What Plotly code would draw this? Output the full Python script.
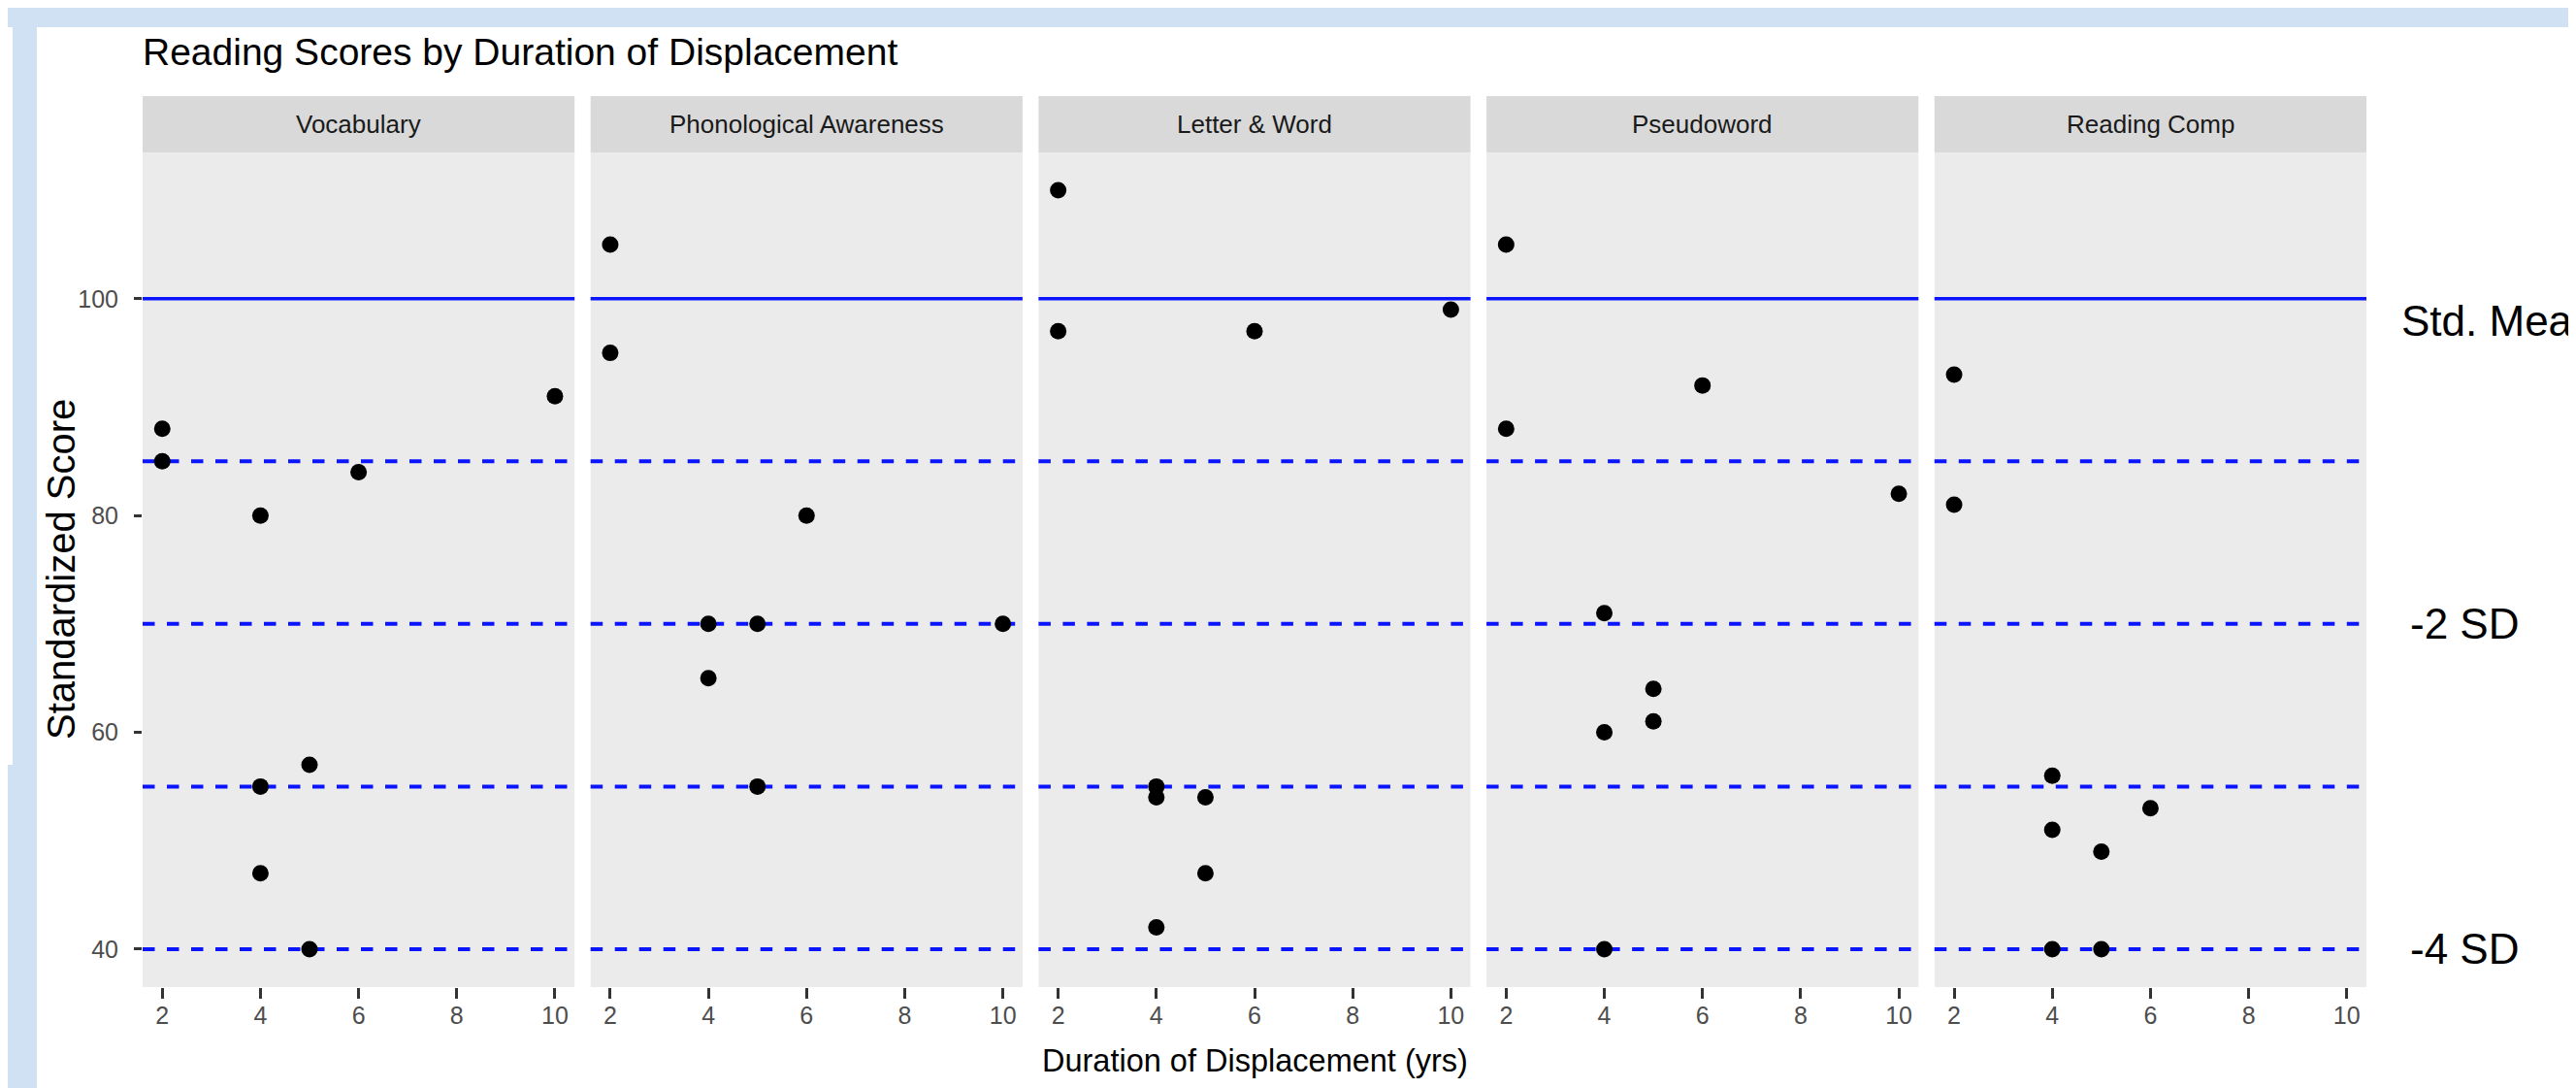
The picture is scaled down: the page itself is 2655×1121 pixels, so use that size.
import plotly.graph_objects as go

# ---------------- data ----------------
facets = ["Vocabulary", "Phonological Awareness", "Letter & Word", "Pseudoword", "Reading Comp"]

vocab_years = [2, 2, 4, 6, 10, 4, 5, 4, 5]
vocab_score = [88, 85, 80, 84, 91, 55, 57, 47, 40]

phon_years = [2, 2, 6, 4, 5, 10, 4, 5]
phon_score = [105, 95, 80, 70, 70, 70, 65, 55]

letter_years = [2, 2, 6, 10, 4, 4, 5, 5, 4]
letter_score = [110, 97, 97, 99, 55, 54, 54, 47, 42]

pseudo_years = [2, 2, 6, 10, 4, 5, 5, 4, 4]
pseudo_score = [105, 88, 92, 82, 71, 64, 61, 60, 40]

comp_years = [2, 2, 4, 6, 4, 5, 4, 5]
comp_score = [93, 81, 56, 53, 51, 49, 40, 40]

mean_line = 100
sd_lines = [85, 70, 55, 40]
sd_labels = ["Std. Mean", "-2 SD", "-4 SD"]
sd_label_y = [98, 70, 40]

x_ticks = [2, 4, 6, 8, 10]
y_ticks = [40, 60, 80, 100]

series_x = [vocab_years, phon_years, letter_years, pseudo_years, comp_years]
series_y = [vocab_score, phon_score, letter_score, pseudo_score, comp_score]

# ---------------- layout helpers ----------------
W, H = 2655, 1121
def fx(p):
    return p / W
def fy(p):
    return 1 - p / H

FONT = "Liberation Sans, Arial, Helvetica, sans-serif"

panel_left, panel_right, gap = 139, 2431, 16.5
n = len(facets)
pw = (panel_right - panel_left - gap * (n - 1)) / n
panel_top, panel_bottom = 149, 1009
strip_top = 91

fig = go.Figure()
layout = dict(
    width=W, height=H, autosize=False,
    margin=dict(l=0, r=0, t=0, b=0),
    paper_bgcolor="white", plot_bgcolor="#EBEBEB",
    showlegend=False,
)

shapes = []
annotations = []

# frame decoration
BLUEFRAME = "#CFE1F2"
shapes.append(dict(type="rect", xref="paper", yref="paper", x0=0, x1=1, y0=fy(20), y1=1,
                   fillcolor=BLUEFRAME, line=dict(width=0), layer="below"))
shapes.append(dict(type="rect", xref="paper", yref="paper", x0=0, x1=fx(30), y0=0, y1=1,
                   fillcolor=BLUEFRAME, line=dict(width=0), layer="below"))
shapes.append(dict(type="rect", xref="paper", yref="paper", x0=0, x1=fx(5), y0=fy(780), y1=fy(20),
                   fillcolor="white", line=dict(width=0), layer="below"))

for i in range(n):
    k = "" if i == 0 else str(i + 1)
    x0 = panel_left + i * (pw + gap)
    x1 = x0 + pw
    layout["xaxis" + k] = dict(
        domain=[fx(x0), fx(x1)], anchor="y" + k, range=[1.6, 10.4],
        tickvals=x_ticks, ticks="outside", ticklen=11, tickwidth=2.5, tickcolor="#333333",
        showgrid=False, zeroline=False, showline=False,
        tickfont=dict(family=FONT, size=25, color="#4D4D4D"), ticklabelstandoff=-4,
    )
    layout["yaxis" + k] = dict(
        domain=[fy(panel_bottom), fy(panel_top)], anchor="x" + k, range=[36.5, 113.5],
        tickvals=y_ticks, showgrid=False, zeroline=False, showline=False,
        ticks="outside" if i == 0 else "", ticklen=8, tickwidth=2.5, tickcolor="#333333",
        showticklabels=(i == 0),
        tickfont=dict(family=FONT, size=25, color="#4D4D4D"), ticklabelstandoff=11,
    )
    if i > 0:
        layout["yaxis" + k]["matches"] = "y"

    # strip
    shapes.append(dict(type="rect", xref="x" + k + " domain", yref="paper",
                       x0=0, x1=1, y0=fy(panel_top), y1=fy(strip_top),
                       fillcolor="#D9D9D9", line=dict(width=0)))
    annotations.append(dict(text=facets[i], xref="x" + k + " domain", yref="paper",
                            x=0.5, y=fy((panel_top + strip_top) / 2), showarrow=False,
                            xanchor="center", yanchor="middle",
                            font=dict(family=FONT, size=26, color="#1A1A1A")))
    # reference lines
    shapes.append(dict(type="line", xref="x" + k + " domain", yref="y" + k,
                       x0=0, x1=1, y0=mean_line, y1=mean_line, layer="below",
                       line=dict(color="#0A14FF", width=3.5)))
    for v in sd_lines:
        shapes.append(dict(type="line", xref="x" + k + " domain", yref="y" + k,
                           x0=0, x1=1, y0=v, y1=v, layer="below",
                           line=dict(color="#0A14FF", width=4, dash="12.5px,12.5px")))

    fig.add_trace(go.Scatter(
        x=series_x[i], y=series_y[i], mode="markers",
        marker=dict(color="black", size=17, line=dict(width=0)),
        xaxis="x" + k, yaxis="y" + k, hoverinfo="x+y",
    ))

# title
annotations.append(dict(text="Reading Scores by Duration of Displacement", xref="paper", yref="paper",
                        x=fx(137), y=fy(46), xanchor="left", yanchor="middle", showarrow=False,
                        font=dict(family=FONT, size=39, color="black")))
# axis titles
annotations.append(dict(text="Duration of Displacement (yrs)", xref="paper", yref="paper",
                        x=fx((panel_left + panel_right) / 2), y=fy(1085), xanchor="center",
                        yanchor="middle", showarrow=False,
                        font=dict(family=FONT, size=32.5, color="black")))
annotations.append(dict(text="Standardized Score", xref="paper", yref="paper",
                        x=fx(55), y=fy((panel_top + panel_bottom) / 2), xanchor="center",
                        yanchor="middle", showarrow=False, textangle=-90,
                        font=dict(family=FONT, size=40, color="black")))
# right-side labels
label_left = [2465, 2474, 2474]
for lab, yv, xl in zip(sd_labels, sd_label_y, label_left):
    annotations.append(dict(text=lab, xref="paper", yref="y5", x=fx(xl), y=yv,
                            xanchor="left", yanchor="middle", showarrow=False,
                            font=dict(family=FONT, size=44, color="black")))

layout["shapes"] = shapes
layout["annotations"] = annotations
fig.update_layout(**layout)
fig.write_html("out.html")
